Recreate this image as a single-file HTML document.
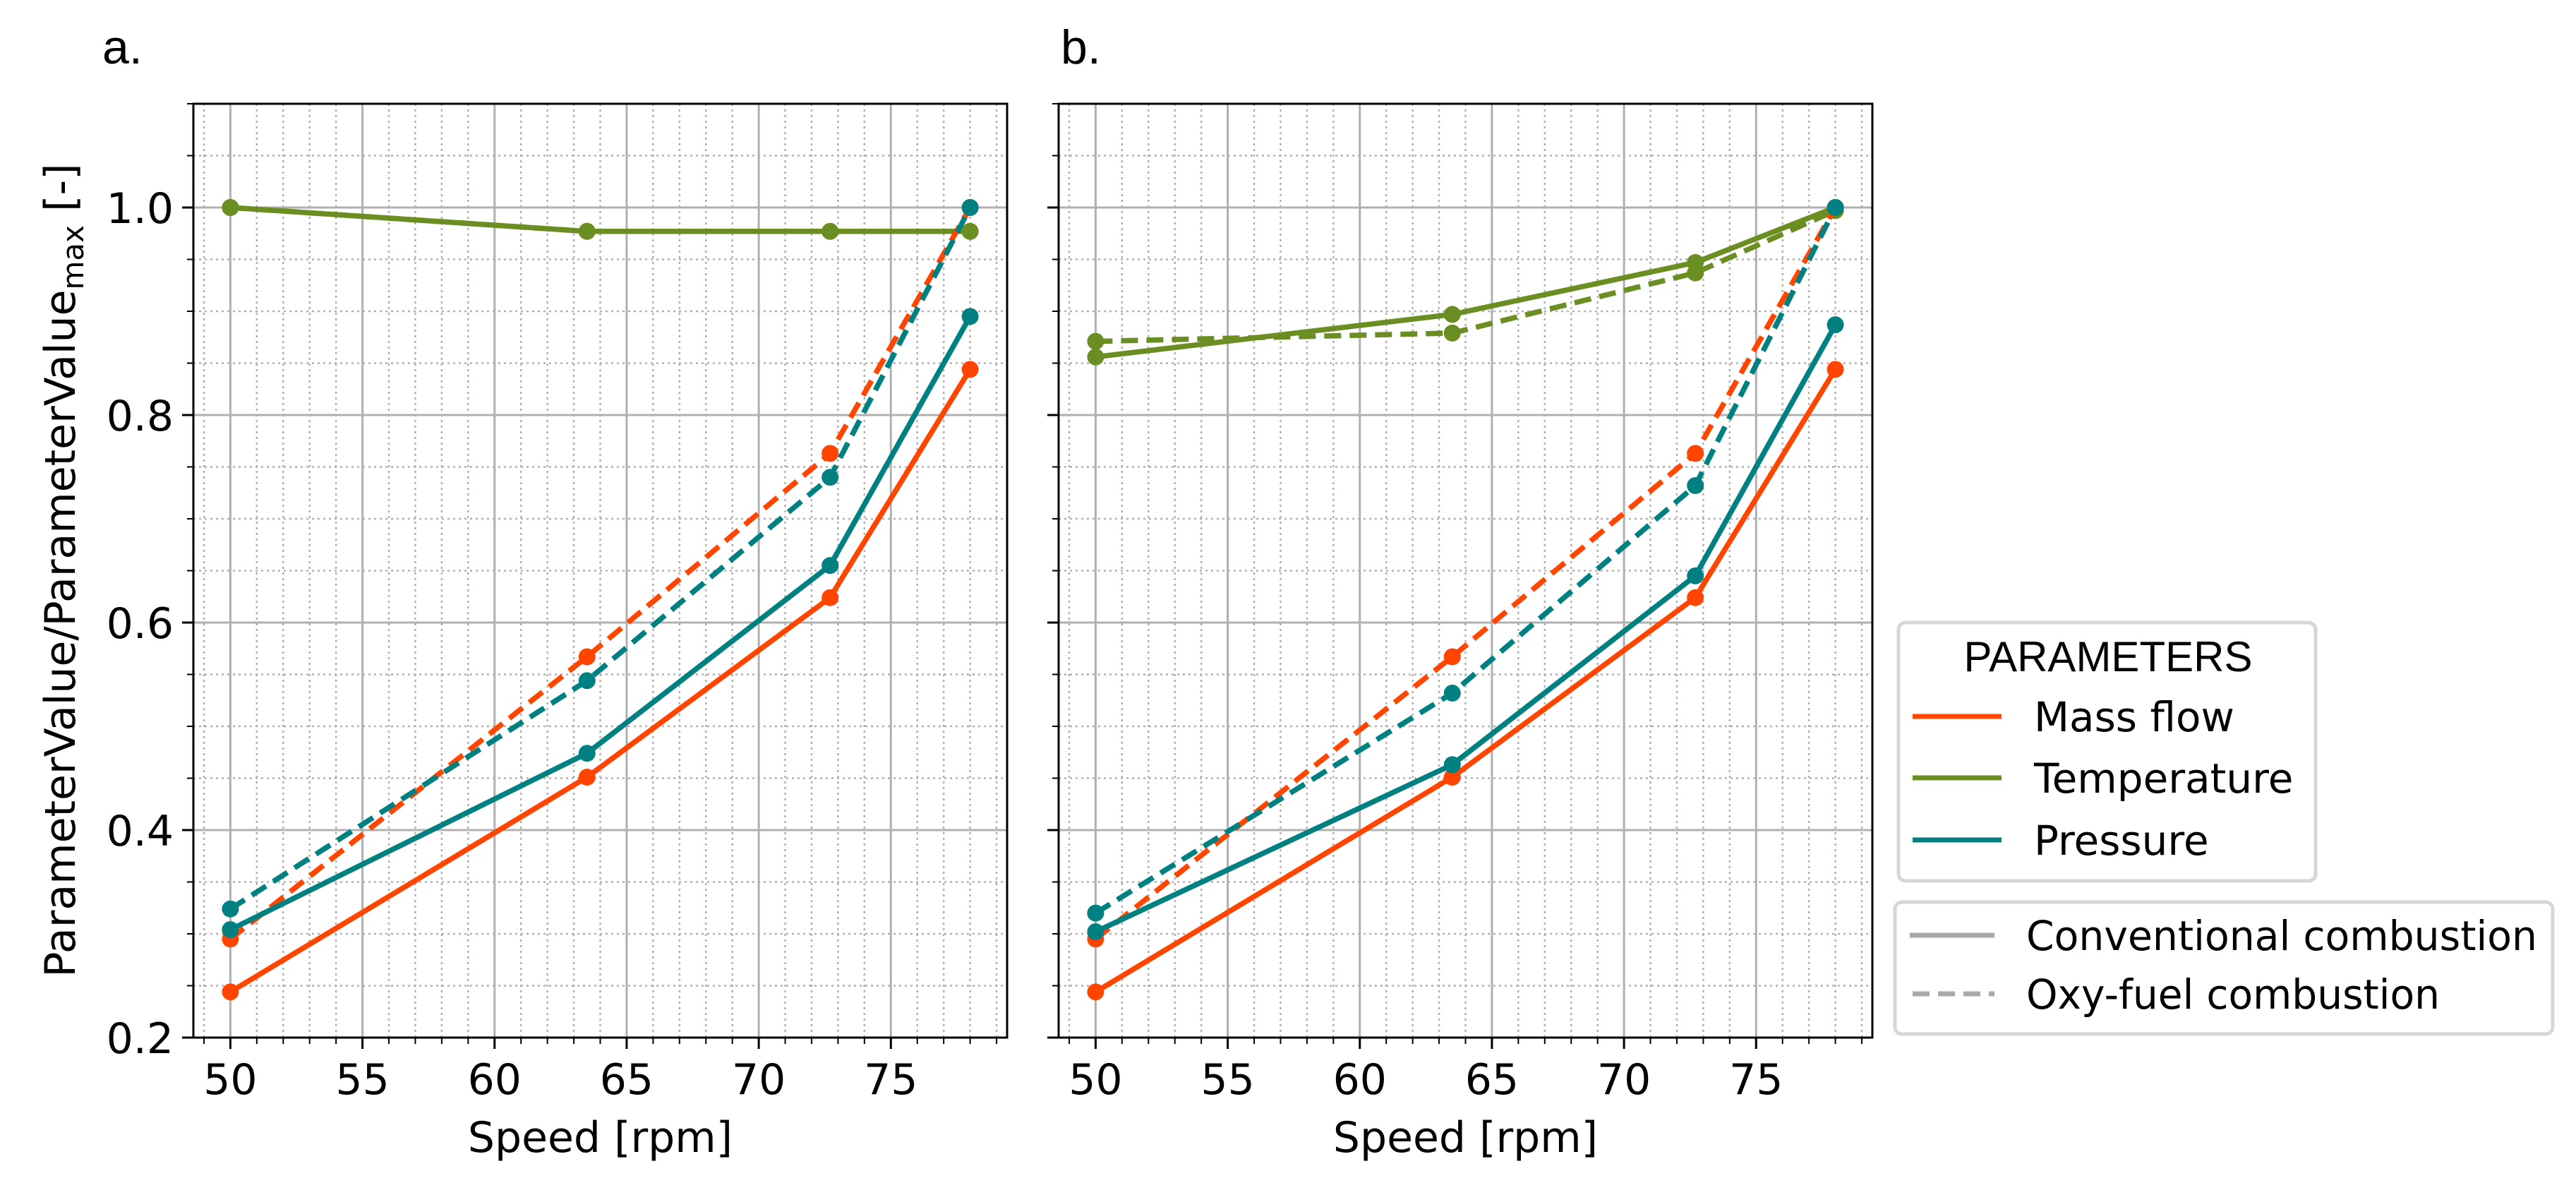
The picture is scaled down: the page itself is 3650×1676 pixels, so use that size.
<!DOCTYPE html>
<html><head><meta charset="utf-8"><style>
html,body{margin:0;padding:0;background:#fff;}
svg{display:block;font-family:"DejaVu Sans","Liberation Sans",sans-serif;}
</style></head><body>
<svg id="fig" width="3650" height="1676" viewBox="0 0 3650 1676" xmlns="http://www.w3.org/2000/svg">
<rect width="3650" height="1676" fill="#fff"/>
<g id="legend1">
<rect x="2690" y="882" width="591" height="366" rx="10" fill="#fff" stroke="#d6d6d6" stroke-width="5"/>
<text x="2987" y="951" font-size="60" text-anchor="middle" font-family="Liberation Sans, sans-serif">PARAMETERS</text>
<line x1="2710" y1="1015" x2="2836" y2="1015" stroke="#FF4500" stroke-width="7"/>
<text x="2882" y="1036" font-size="58">Mass flow</text>
<line x1="2710" y1="1102" x2="2836" y2="1102" stroke="#6B8E23" stroke-width="7"/>
<text x="2882" y="1123" font-size="58">Temperature</text>
<line x1="2710" y1="1190" x2="2836" y2="1190" stroke="#008080" stroke-width="7"/>
<text x="2882" y="1211" font-size="58">Pressure</text>
</g>
<g id="legend2">
<rect x="2685" y="1278" width="932" height="187" rx="10" fill="#fff" stroke="#d6d6d6" stroke-width="5"/>
<line x1="2706" y1="1325" x2="2826" y2="1325" stroke="#a9a9a9" stroke-width="7"/>
<text x="2871" y="1346" font-size="58" textLength="724" lengthAdjust="spacingAndGlyphs">Conventional combustion</text>
<line x1="2710" y1="1408" x2="2826" y2="1408" stroke="#a9a9a9" stroke-width="7" stroke-dasharray="24,12"/>
<text x="2871" y="1429" font-size="58" textLength="586" lengthAdjust="spacingAndGlyphs">Oxy-fuel combustion</text>
</g>
</svg>
<script>
const xSpeeds = [50, 63.5, 72.7, 78];
const aMassConv = [0.244, 0.451, 0.624, 0.844];
const aMassOxy = [0.295, 0.567, 0.763, 1.0];
const aTempConv = [1.0, 0.977, 0.977, 0.977];
const aTempOxy = [1.0, 0.977, 0.977, 0.977];
const aPresConv = [0.304, 0.474, 0.655, 0.895];
const aPresOxy = [0.324, 0.544, 0.740, 1.0];
const bMassConv = [0.244, 0.451, 0.624, 0.844];
const bMassOxy = [0.295, 0.567, 0.763, 1.0];
const bTempConv = [0.856, 0.897, 0.947, 1.0];
const bTempOxy = [0.871, 0.879, 0.937, 0.997];
const bPresConv = [0.302, 0.463, 0.645, 0.887];
const bPresOxy = [0.320, 0.532, 0.732, 1.0];
const xTicks = [50, 55, 60, 65, 70, 75];
const yTicks = [0.2, 0.4, 0.6, 0.8, 1.0];

const NS = "http://www.w3.org/2000/svg";
const svg = document.getElementById('fig');
const XMIN = 48.6, XMAX = 79.4, YMIN = 0.2, YMAX = 1.1;
const TOP = 147, BOT = 1470, W = 1153;
function mk(tag, attrs, parent) {
  const e = document.createElementNS(NS, tag);
  for (const k in attrs) e.setAttribute(k, attrs[k]);
  parent.appendChild(e);
  return e;
}
const leg = document.getElementById('legend1');
function panel(left, letter, labelX, showY, series) {
  const xs = v => left + (v - XMIN) / (XMAX - XMIN) * W;
  const ys = v => BOT - (v - YMIN) / (YMAX - YMIN) * (BOT - TOP);
  const g = mk('g', {}, svg);
  
  
  svg.insertBefore(g, leg);
  const grid = mk('g', {}, g);
  
  
  for (let v = 49; v <= 79; v++) {
    if (v % 5 === 0) continue;
    mk('line', {x1: xs(v), x2: xs(v), y1: TOP, y2: BOT, stroke: '#b0b0b0', 'stroke-width': 2.5, 'stroke-dasharray': '3,5'}, grid);
    mk('line', {x1: xs(v), x2: xs(v), y1: BOT, y2: BOT + 9, stroke: '#000', 'stroke-width': 2}, grid);
  }
  for (let i = 4; i <= 22; i++) {
    const v = i * 0.05;
    if (i % 4 === 0) continue;
    mk('line', {x1: left, x2: left + W, y1: ys(v), y2: ys(v), stroke: '#b0b0b0', 'stroke-width': 2.5, 'stroke-dasharray': '3,5'}, grid);
    mk('line', {x1: left - 9, x2: left, y1: ys(v), y2: ys(v), stroke: '#000', 'stroke-width': 2}, grid);
  }
  xTicks.forEach(t => {
    mk('line', {x1: xs(t), x2: xs(t), y1: TOP, y2: BOT, stroke: '#b0b0b0', 'stroke-width': 3}, grid);
    mk('line', {x1: xs(t), x2: xs(t), y1: BOT, y2: BOT + 16, stroke: '#000', 'stroke-width': 3}, grid);
    const tx = mk('text', {x: xs(t), y: BOT + 80, 'font-size': 60, 'text-anchor': 'middle'}, g);
    
    
    tx.textContent = t;
  });
  yTicks.forEach(t => {
    mk('line', {x1: left, x2: left + W, y1: ys(t), y2: ys(t), stroke: '#b0b0b0', 'stroke-width': 3}, grid);
    mk('line', {x1: left - 16, x2: left, y1: ys(t), y2: ys(t), stroke: '#000', 'stroke-width': 3}, grid);
    if (showY) {
      const ty = mk('text', {x: left - 28, y: ys(t) + 22, 'font-size': 60, 'text-anchor': 'end'}, g);
      
      
      ty.textContent = t.toFixed(1);
    }
  });
  series.forEach(s => {
    const sg = mk('g', {}, g);
    
    
    const pts = s.vals.map((v, i) => xs(xSpeeds[i]) + ',' + ys(v)).join(' ');
    const pl = mk('polyline', {points: pts, fill: 'none', stroke: s.color, 'stroke-width': 7.5, 'stroke-linejoin': 'round'}, sg);
    if (s.dash) pl.setAttribute('stroke-dasharray', '24,12');
    s.vals.forEach((v, i) => {
      const c = mk('circle', {cx: xs(xSpeeds[i]), cy: ys(v), r: 12, fill: s.color}, sg);
      
      
    });
  });
  const fr = mk('rect', {x: left, y: TOP, width: W, height: BOT - TOP, fill: 'none', stroke: '#000', 'stroke-width': 3}, g);
  
  
  const xl = mk('text', {x: left + W / 2, y: BOT + 162, 'font-size': 60, 'text-anchor': 'middle'}, g);
  
  
  xl.textContent = 'Speed [rpm]';
  const pt = mk('text', {x: labelX, y: 90, 'font-size': 68, 'font-family': 'Liberation Sans, sans-serif'}, g);
  
  
  pt.textContent = letter + '.';
}
panel(274, 'a', 145, true, [
  {name: 'temperature-oxy', vals: aTempOxy, color: '#6B8E23', dash: true},
  {name: 'temperature-conv', vals: aTempConv, color: '#6B8E23', dash: false},
  {name: 'mass-flow-oxy', vals: aMassOxy, color: '#FF4500', dash: true},
  {name: 'pressure-oxy', vals: aPresOxy, color: '#008080', dash: true},
  {name: 'mass-flow-conv', vals: aMassConv, color: '#FF4500', dash: false},
  {name: 'pressure-conv', vals: aPresConv, color: '#008080', dash: false}
]);
panel(1500, 'b', 1503, false, [
  {name: 'temperature-oxy', vals: bTempOxy, color: '#6B8E23', dash: true},
  {name: 'temperature-conv', vals: bTempConv, color: '#6B8E23', dash: false},
  {name: 'mass-flow-oxy', vals: bMassOxy, color: '#FF4500', dash: true},
  {name: 'pressure-oxy', vals: bPresOxy, color: '#008080', dash: true},
  {name: 'mass-flow-conv', vals: bMassConv, color: '#FF4500', dash: false},
  {name: 'pressure-conv', vals: bPresConv, color: '#008080', dash: false}
]);
const yl = mk('text', {x: 0, y: 0, 'font-size': 60, 'text-anchor': 'middle', transform: 'translate(106,808) rotate(-90)'}, svg);


yl.innerHTML = 'ParameterValue/ParameterValue<tspan font-size="42" dy="12">max</tspan><tspan dy="-12"> [-]</tspan>';
</script>
</body></html>
